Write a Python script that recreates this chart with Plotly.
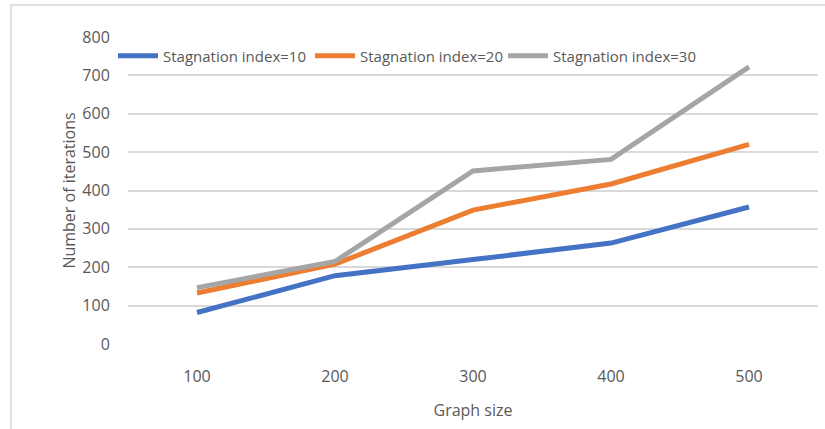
import plotly.graph_objects as go

# Graph sizes on the category axis
graph_sizes = ["100", "200", "300", "400", "500"]

# Iterations needed for each stagnation index
iters_idx10 = [82, 178, 220, 263, 357]
iters_idx20 = [133, 208, 349, 417, 520]
iters_idx30 = [147, 215, 451, 481, 722]

series_names = ["Stagnation index=10", "Stagnation index=20", "Stagnation index=30"]
series_colors = ["#4472C4", "#ED7D31", "#A5A5A5"]

y_ticks = [0, 100, 200, 300, 400, 500, 600, 700, 800]

FONT = "Open Sans, sans-serif"
TEXT_COLOR = "#595959"
GRID_COLOR = "#D9D9D9"

# Margins put the plot area at x 128..818 and y 37..344 on the page
L, R, T, B = 128, 7, 37, 85
W, H = 825, 429
pw, ph = W - L - R, H - T - B

def px_x(p):
    return (p - L) / pw

def px_y(p):
    return (H - B - p) / ph

# One legend box per series so the three entries sit on a single row
legend_ids = ["legend", "legend2", "legend3"]
legend_left = [113, 310, 503]

fig = go.Figure()
for name, vals, color, lg in zip(series_names, [iters_idx10, iters_idx20, iters_idx30],
                                 series_colors, legend_ids):
    fig.add_trace(go.Scatter(
        x=graph_sizes, y=vals, name=name, mode="lines",
        line=dict(color=color, width=5), legend=lg,
    ))

legend_style = dict(
    orientation="h", xanchor="left", y=px_y(56), yanchor="middle",
    font=dict(family=FONT, size=15, color=TEXT_COLOR),
    bgcolor="rgba(0,0,0,0)", itemwidth=40,
)

fig.update_layout(
    width=W, height=H,
    margin=dict(l=L, r=R, t=T, b=B),
    paper_bgcolor="white", plot_bgcolor="white",
    font=dict(family=FONT, color=TEXT_COLOR, size=16),
    showlegend=True,
    xaxis=dict(
        type="category", range=[-0.5, 4.5],
        showgrid=False, zeroline=False, showline=False,
        ticks="outside", ticklen=18, tickcolor="rgba(0,0,0,0)",
        tickfont=dict(family=FONT, size=16, color=TEXT_COLOR),
        title=dict(text="Graph size", standoff=18,
                   font=dict(family=FONT, size=16, color=TEXT_COLOR)),
    ),
    yaxis=dict(
        range=[0, 800], tickvals=y_ticks,
        showgrid=True, gridcolor=GRID_COLOR, gridwidth=1.5,
        zeroline=False, showline=False,
        ticks="outside", ticklen=14, tickcolor="rgba(0,0,0,0)",
        tickfont=dict(family=FONT, size=16, color=TEXT_COLOR),
        title=dict(text="Number of iterations", standoff=2,
                   font=dict(family=FONT, size=16, color=TEXT_COLOR)),
    ),
    shapes=[dict(
        type="rect", xref="paper", yref="paper",
        x0=px_x(11), x1=px_x(840), y0=px_y(440), y1=px_y(5),
        line=dict(color=GRID_COLOR, width=1.5), fillcolor="rgba(0,0,0,0)",
        layer="below",
    )],
)
for lg, left in zip(legend_ids, legend_left):
    fig.update_layout({lg: dict(legend_style, x=px_x(left))})

fig.write_html("out.html")
